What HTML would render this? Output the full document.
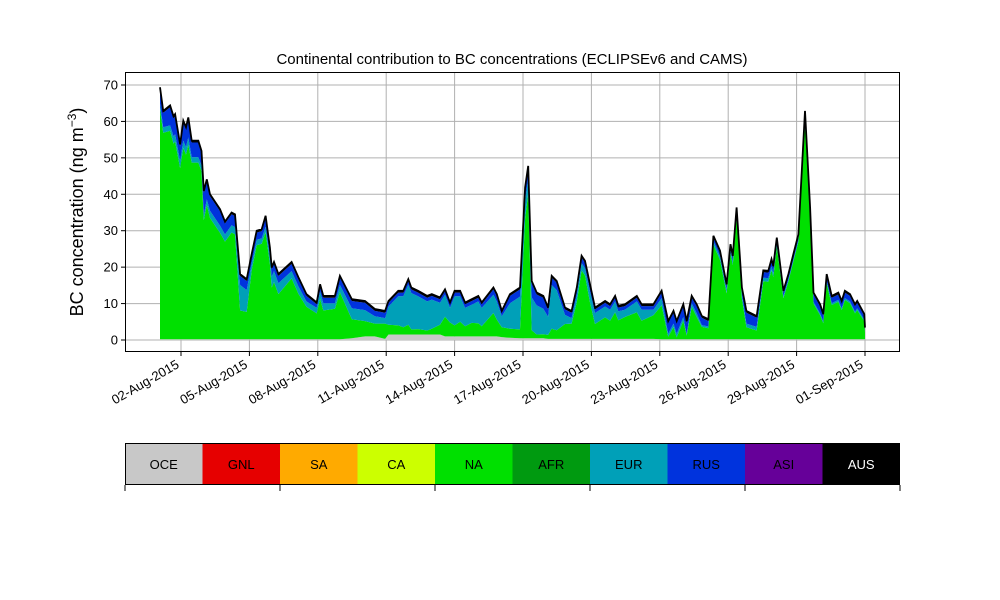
<!DOCTYPE html>
<html><head><meta charset="utf-8"><style>
html,body{margin:0;padding:0;background:#fff;}
svg{display:block;font-family:"Liberation Sans","DejaVu Sans",sans-serif;}
</style></head><body>
<svg id="chart" width="1000" height="600" viewBox="0 0 1000 600"></svg>
<script>
const times=[-0.92,-0.78,-0.48,-0.33,-0.26,-0.04,0.1,0.22,0.32,0.47,0.76,0.9,1.0,1.13,1.27,1.71,1.93,2.22,2.37,2.59,2.88,3.1,3.32,3.54,3.71,3.9,3.98,4.08,4.27,4.85,5.15,5.5,5.95,6.1,6.24,6.75,6.97,7.49,8.07,8.5,8.95,9.1,9.53,9.75,9.97,10.1,10.4,10.8,11.0,11.36,11.58,11.8,12.0,12.24,12.46,12.75,13.04,13.19,13.7,13.85,14.07,14.43,14.87,15.09,15.23,15.38,15.6,15.89,16.1,16.26,16.48,16.84,17.13,17.36,17.57,17.72,17.94,18.16,18.6,18.82,19.04,19.18,19.47,19.99,20.2,20.72,21.08,21.37,21.6,21.74,22.03,22.18,22.4,22.62,22.84,23.13,23.35,23.64,23.93,24.1,24.2,24.37,24.6,24.8,25.25,25.54,25.76,25.9,25.98,26.13,26.42,26.64,26.86,27.08,27.37,27.59,27.74,28.03,28.17,28.32,28.54,28.83,28.98,29.12,29.34,29.56,29.66,29.97,30.0];
const oce=[.2,.2,.2,.2,.2,.2,.2,.2,.2,.2,.2,.2,.2,.2,.2,.2,.2,.2,.2,.2,.2,.2,.2,.2,.2,.2,.2,.2,.2,.2,.2,.2,.2,.2,.2,.2,.2,.5,1,1,.3,1.5,1.5,1.5,1.5,1.5,1.5,1.5,1.5,1.5,1,1,1,1,1,1,1,1,1,1,.8,.6,.5,.5,.5,.5,.5,.5,.3,.3,.3,.3,.3,.3,.3,.3,.3,.3,.3,.3,.3,.3,.3,.3,.3,.3,.2,.2,.2,.2,.2,.2,.2,.2,.2,.2,.2,.2,.2,.2,.2,.2,.2,.2,.2,.2,.2,.2,.2,.2,.2,.2,.2,.2,.2,.2,.2,.2,.2,.2,.2,.2,.2,.2,.2,.2,.2,.2,.2];
const na=[63.2,56.7,57.2,53.7,54.3,47,52.5,50.7,53.4,48.5,48.5,46.2,32.7,36.9,33.3,29.2,26.8,29.3,28.8,7.9,7.5,18.9,25.8,26.2,29.4,20.7,14.2,15.7,12.4,16.7,12.5,8.9,7.1,11.1,7.9,8.4,12.9,5.2,4.2,3.5,4.2,2.7,2.5,2,2.7,1.4,1.5,1.1,1.6,2.7,5.4,3.8,3,4,2.8,3.7,3.6,2.8,6.4,4.6,2.7,2.5,2.4,32.9,39.8,2.2,1,1.1,1.1,2.8,2.4,4.1,4.2,10.1,18.8,17.4,10,4.1,5.9,5,7.3,5.1,6,7.3,5,6.5,9.3,.7,3.3,.5,5.1,1,8.9,6.1,3.4,3,25.9,21.8,12.6,23.6,20.4,33.7,11.2,3.3,2.4,15.9,15.8,19,17.1,25.4,11.3,15.9,21.4,26.8,59.2,33.2,9.8,6.6,4.4,15.4,9.4,10.3,8,10.8,9.9,7.1,8,4.9,1.9];
const eur=[1.5,1.5,1.5,2,2,2,2,2,2,1.5,1.5,1.5,1.5,1.5,2,2,2,2,2,7,6,2,1.5,1.5,1.5,2,3,3,3,2,2,1.5,1.5,2,2,1.5,2,3,3,2,1.5,5,8,8.5,11,10,9,8,8,6,6,4,8,7,5,5,6,5,5,5,3,7,9,5,4,9,8,7,5,12,11,2.5,1.5,2,2,2,3,3,3,3,3,2.5,2,3,3,1.5,2,.8,1,1,1,.5,1,1,.5,.5,1,1,1,1,1,1,1,1,1,1,1,1,1,1,.5,.5,.5,.5,1,1,.5,.5,.5,.5,.5,.5,.5,.5,.5,.5,.5,.5,.3];
const rus=[4,4,5,5,5,4,5,5,5,4,4,3.5,6,5,4,4,3,3,3,2.5,2.5,2,2,2,2.5,2,2,2,2,2,2,1.5,1,1.5,1.5,1.5,2,2,2,1.5,1.5,1,1,1,1,1,1,1,1,1,1,1,1,1,1,1,1,1,1.5,1.5,1,2,2,3,3,4,3,3,2,2,2,1.5,1.5,1.5,1.5,1.5,1.5,1,1,1,1,1,1,1,1,1,1.5,3,3,3,3,3,1.5,2,2,1.5,1,1,1,1,1,1,1.5,3,2.5,1.5,1.5,1.5,1.5,1,1,1,1,1,2,1.5,2,2,1.5,1.5,1.5,1.5,1.5,1.5,1.5,1.5,1.5,1,.5];
const aus=times.map(()=>0.5);
const yTicks=[0,10,20,30,40,50,60,70];
const xTickDays=[0,3,6,9,12,15,18,21,24,27,30];
const xTickLabels=["02-Aug-2015","05-Aug-2015","08-Aug-2015","11-Aug-2015","14-Aug-2015","17-Aug-2015","20-Aug-2015","23-Aug-2015","26-Aug-2015","29-Aug-2015","01-Sep-2015"];
const regions=["OCE","GNL","SA","CA","NA","AFR","EUR","RUS","ASI","AUS"];
const regionColors=["#c8c8c8","#e60000","#ffaa00","#ccff00","#00e000","#009a10","#00a0b8","#0033dd","#660099","#000000"];

const NS="http://www.w3.org/2000/svg";
const svg=document.getElementById('chart');
const L=125,R=900,T=72,B=352;
const xs=d=>181+d*22.8;
const ys=v=>340-v*3.643;
function mk(tag,attrs,parent){const e=document.createElementNS(NS,tag);for(const k in attrs)e.setAttribute(k,attrs[k]);(parent||svg).appendChild(e);return e;}

yTicks.forEach(v=>{const g=mk('line',{x1:L,x2:R,y1:ys(v),y2:ys(v),stroke:'#b0b0b0','stroke-width':1});

});
xTickDays.forEach(d=>{const g=mk('line',{x1:xs(d),x2:xs(d),y1:T,y2:B,stroke:'#b0b0b0','stroke-width':1});

});

const layers=[["oce",oce,0],["na",na,4],["eur",eur,6],["rus",rus,7],["aus",aus,9]];
let base=times.map(()=>0);
layers.forEach(([name,vals,ci])=>{
  const top=base.map((b,i)=>b+vals[i]);
  let d="M"+times.map((t,i)=>xs(t).toFixed(1)+","+ys(top[i]).toFixed(1)).join("L");
  for(let i=times.length-1;i>=0;i--)d+="L"+xs(times[i]).toFixed(1)+","+ys(base[i]).toFixed(1);
  const p=mk('path',{d:d+"Z",fill:regionColors[ci],stroke:'none'});
  
  
  base=top;
});
const tl=mk('path',{d:"M"+times.map((t,i)=>xs(t).toFixed(1)+","+ys(base[i]).toFixed(1)).join("L"),fill:'none',stroke:'#000','stroke-width':1.8});



const fr=mk('rect',{x:L+.5,y:T+.5,width:R-L-1,height:B-T-1,fill:'none',stroke:'#000','stroke-width':1});



yTicks.forEach(v=>{
  const t=mk('line',{x1:L-4,x2:L,y1:ys(v),y2:ys(v),stroke:'#000'});
  
  
  const tx=mk('text',{x:L-7,y:ys(v)+4.5,'text-anchor':'end','font-size':13});
  tx.textContent=v;
  
  
});
xTickDays.forEach((d,i)=>{
  const t=mk('line',{x1:xs(d),x2:xs(d),y1:B,y2:B+4,stroke:'#000'});
  
  
  const x=xs(d)-1,y=B+15;
  const tx=mk('text',{x:x,y:y,'text-anchor':'end','font-size':13,transform:`rotate(-30 ${x} ${y})`});
  tx.textContent=xTickLabels[i];
  
  
});
const ti=mk('text',{x:512,y:64,'text-anchor':'middle','font-size':15});
ti.textContent="Continental contribution to BC concentrations (ECLIPSEv6 and CAMS)";


const yl=mk('text',{x:0,y:0,'text-anchor':'middle','font-size':18,transform:'translate(83,212) rotate(-90)'});
yl.innerHTML='BC concentration (ng m<tspan dy="-7" font-size="12">−3</tspan><tspan dy="7">)</tspan>';



const cw=(R-L)/regions.length;
regions.forEach((r,i)=>{
  const rc=mk('rect',{x:L+i*cw,y:443,width:cw,height:42,fill:regionColors[i]});
  
  
  const tx=mk('text',{x:L+i*cw+cw/2,y:469,'text-anchor':'middle','font-size':13,fill:r==='AUS'?'#fff':'#000'});
  tx.textContent=r;
  
  
});
const cb=mk('rect',{x:L+.5,y:443.5,width:R-L-1,height:41,fill:'none',stroke:'#000','stroke-width':1});


for(let i=0;i<=regions.length;i+=2){
  const t=mk('line',{x1:L+i*cw,x2:L+i*cw,y1:485,y2:491,stroke:'#000'});
  
  
}
</script>
</body></html>
